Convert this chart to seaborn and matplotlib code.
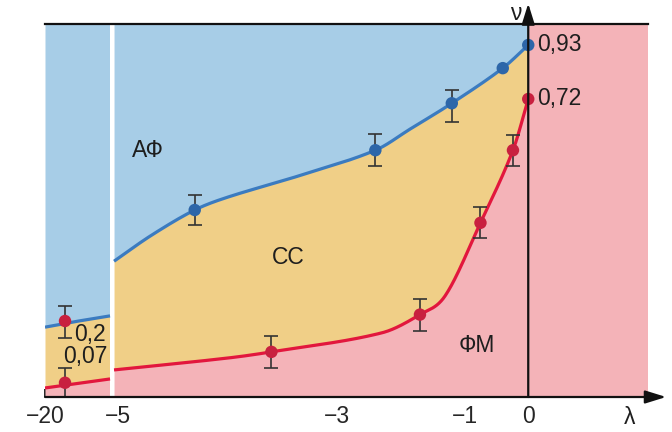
import numpy as np
import matplotlib
matplotlib.use("Agg")
import matplotlib.pyplot as plt
import seaborn as sns

# ---------------- data ----------------
# measured points on the АФ/СС boundary (right of the axis break)
blue_pts_lam = [-4.3, -2.4, -1.2, -0.4, 0.0]
blue_pts_nu = [0.46, 0.60, 0.71, 0.84, 0.93]
blue_pts_err = [0.036, 0.037, 0.045, np.nan, np.nan]

# measured points on the СС/ФМ boundary
red_pts_lam = [-3.6, -1.7, -0.75, -0.24, 0.0]
red_pts_nu = [0.135, 0.215, 0.43, 0.60, 0.72]
red_pts_err = [0.033, 0.037, 0.036, 0.036, np.nan]

# points on the far-left segment (λ → −20)
left_pts_lam = [-16, -16]
left_pts_nu = [0.2, 0.07]
left_pts_err = [0.035, 0.031]

# smooth phase boundaries, right of the break
blue_lam = [-6.0, -4.7, -4.3, -4.0, -3.35, -2.4, -1.85, -1.2, -0.4, 0.0]
blue_nu = [0.34, 0.40, 0.46, 0.49, 0.54, 0.60, 0.65, 0.71, 0.84, 0.93]
red_lam = [-6.0, -4.0, -3.6, -2.3, -1.7, -1.3, -0.75, -0.24, 0.0]
red_nu = [0.097, 0.122, 0.135, 0.175, 0.215, 0.26, 0.43, 0.60, 0.72]

# phase boundaries, left of the break
blue_left_lam = [-20, -7]
blue_left_nu = [0.187, 0.212]
red_left_lam = [-20, -7]
red_left_nu = [0.059, 0.078]

xtick_vals = [-20, -5, -3, -1, 0]
xtick_labels = ["\u221220", "\u22125", "\u22123", "\u22121", "0"]

# ---------------- non-uniform axis scales ----------------
LAM_KNOTS = [-20, -7, -6, -5, -3, 0, 1.88]
LAM_UNITS = [0, 65, 69, 73, 292, 483, 602.7]
NU_KNOTS = [0.04, 0.2, 0.72, 0.93, 1.01]
NU_UNITS = [0, 76, 298, 352, 373]
BREAK = (-7, -6)


def piecewise(x, xp, fp):
    x = np.asarray(x, float)
    xp = np.asarray(xp, float)
    fp = np.asarray(fp, float)
    y = np.interp(x, xp, fp)
    y = np.where(x < xp[0], fp[0] + (x - xp[0]) * (fp[1] - fp[0]) / (xp[1] - xp[0]), y)
    y = np.where(x > xp[-1], fp[-1] + (x - xp[-1]) * (fp[-1] - fp[-2]) / (xp[-1] - xp[-2]), y)
    return y


lam_fwd = lambda v: piecewise(v, LAM_KNOTS, LAM_UNITS)
lam_inv = lambda v: piecewise(v, LAM_UNITS, LAM_KNOTS)
nu_fwd = lambda v: piecewise(v, NU_KNOTS, NU_UNITS)
nu_inv = lambda v: piecewise(v, NU_UNITS, NU_KNOTS)


def cardinal(xk, yk, xs):
    """Cubic Hermite curve with central-difference tangents."""
    xk = np.asarray(xk, float)
    yk = np.asarray(yk, float)
    h = np.diff(xk)
    d = np.diff(yk) / h
    m = np.empty_like(yk)
    m[1:-1] = (yk[2:] - yk[:-2]) / (xk[2:] - xk[:-2])
    m[0] = d[0]
    m[-1] = d[-1]
    idx = np.clip(np.searchsorted(xk, xs) - 1, 0, len(xk) - 2)
    t = (xs - xk[idx]) / h[idx]
    h00 = 2 * t**3 - 3 * t**2 + 1
    h10 = t**3 - 2 * t**2 + t
    h01 = -2 * t**3 + 3 * t**2
    h11 = t**3 - t**2
    return h00 * yk[idx] + h10 * h[idx] * m[idx] + h01 * yk[idx + 1] + h11 * h[idx] * m[idx + 1]


def smooth(lam, nu, grid_lam):
    u = lam_fwd(lam)
    v = nu_fwd(nu)
    ug = lam_fwd(grid_lam)
    return nu_inv(cardinal(u, v, ug))


# ---------------- figure ----------------
sns.set_theme(style="white")
plt.rcParams["font.family"] = ["Liberation Sans", "DejaVu Sans"]
plt.rcParams["text.color"] = "#1e1e1e"

C_BLUE_FILL = "#a7cde7"
C_YELLOW = "#f0cf87"
C_PINK = "#f4b3b8"
C_BLUE_LINE = "#3b7bc0"
C_RED_LINE = "#e2173d"
C_BLUE_DOT = "#2d66a9"
C_RED_DOT = "#c8203f"
C_BAR = "#333333"
FS = 16.5

fig = plt.figure(figsize=(6.72, 4.32), dpi=100)
ax = fig.add_axes([45 / 672, 35 / 432, 603 / 672, 373 / 432])
ax.set_xscale("function", functions=(lam_fwd, lam_inv))
ax.set_yscale("function", functions=(nu_fwd, nu_inv))
ax.set_xlim(LAM_KNOTS[0], LAM_KNOTS[-1])
ax.set_ylim(NU_KNOTS[0], NU_KNOTS[-1])
y0, y1 = NU_KNOTS[0], NU_KNOTS[-1]

# right segment: dense grid in display units
grid_r = lam_inv(np.linspace(lam_fwd(BREAK[1]), lam_fwd(0.0), 400))
blue_r = smooth(blue_lam, blue_nu, grid_r)
red_r = smooth(red_lam, red_nu, grid_r)
grid_l = np.linspace(BREAK[0] - 13, BREAK[0], 50)
blue_l = np.interp(grid_l, blue_left_lam, blue_left_nu)
red_l = np.interp(grid_l, red_left_lam, red_left_nu)

for g, b, r in ((grid_l, blue_l, red_l), (grid_r, blue_r, red_r)):
    ax.fill_between(g, b, y1, color=C_BLUE_FILL, lw=0, zorder=1)
    ax.fill_between(g, r, b, color=C_YELLOW, lw=0, zorder=1)
    ax.fill_between(g, y0, r, color=C_PINK, lw=0, zorder=1)
ax.fill_between([0, LAM_KNOTS[-1]], y0, y1, color=C_PINK, lw=0, zorder=1)
ax.axvspan(BREAK[0], BREAK[1], color="white", lw=0, zorder=2)

for g, b, r in ((grid_l, blue_l, red_l), (grid_r, blue_r, red_r)):
    sns.lineplot(x=g, y=b, ax=ax, color=C_BLUE_LINE, lw=2.3, sort=False,
                 estimator=None, zorder=3, solid_capstyle="butt")
    sns.lineplot(x=g, y=r, ax=ax, color=C_RED_LINE, lw=2.3, sort=False,
                 estimator=None, zorder=3, solid_capstyle="butt")

# error bars
for xs, ys, es in ((blue_pts_lam, blue_pts_nu, blue_pts_err),
                   (red_pts_lam, red_pts_nu, red_pts_err),
                   (left_pts_lam, left_pts_nu, left_pts_err)):
    xs = np.array(xs); ys = np.array(ys); es = np.array(es)
    ok = ~np.isnan(es)
    ax.errorbar(xs[ok], ys[ok], yerr=es[ok], fmt="none", ecolor=C_BAR,
                elinewidth=1.2, capsize=5, capthick=1.2, zorder=4)

# points
sns.scatterplot(x=blue_pts_lam, y=blue_pts_nu, ax=ax, color=C_BLUE_DOT, s=80,
                edgecolor="none", zorder=5)
sns.scatterplot(x=red_pts_lam + left_pts_lam, y=red_pts_nu + left_pts_nu, ax=ax,
                color=C_RED_DOT, s=80, edgecolor="none", zorder=5)

# value labels
ax.annotate("0,93", (0, 0.93), xytext=(6.5, 0), textcoords="offset points",
            ha="left", va="center", fontsize=FS, zorder=6)
ax.annotate("0,72", (0, 0.72), xytext=(6.5, 0), textcoords="offset points",
            ha="left", va="center", fontsize=FS, zorder=6)
ax.annotate("0,2", (-16, 0.2), xytext=(6.5, -10), textcoords="offset points",
            ha="left", va="center", fontsize=FS, zorder=6)
ax.annotate("0,07", (-16, 0.07), xytext=(-1.5, 19), textcoords="offset points",
            ha="left", va="center", fontsize=FS, zorder=6)

# phase names
ax.text(0.171, 0.662, "АФ", transform=ax.transAxes, ha="center", va="center", fontsize=FS)
ax.text(0.403, 0.373, "СС", transform=ax.transAxes, ha="center", va="center", fontsize=FS)
ax.text(0.716, 0.137, "ФМ", transform=ax.transAxes, ha="center", va="center", fontsize=FS)

# axes frame
for side in ("left", "right", "bottom"):
    ax.spines[side].set_visible(False)
ax.spines["top"].set_color("#111111")
ax.spines["top"].set_linewidth(1.6)
ax.spines["top"].set_zorder(7)

ax.set_xticks(xtick_vals)
ax.set_xticklabels(xtick_labels, fontsize=FS)
ax.set_yticks([])
ax.tick_params(axis="x", direction="in", length=6, width=1.3, color="#111111",
               pad=6, bottom=True, top=False)
ax.xaxis.set_tick_params(which="minor", bottom=False)
ax.grid(False)

arrow = dict(arrowstyle="-|>,head_length=0.9,head_width=0.28", color="#111111",
             lw=1.6, mutation_scale=14, shrinkA=0, shrinkB=0)
ax.annotate("", xy=(1.03, 0), xytext=(0, 0), xycoords="axes fraction",
            textcoords="axes fraction", arrowprops=arrow, zorder=8, annotation_clip=False)
ax.annotate("", xy=(0, 1.055), xytext=(0, 0), xycoords=("data", "axes fraction"),
            textcoords=("data", "axes fraction"), arrowprops=arrow, zorder=8,
            annotation_clip=False)
ax.text(0.781, 1.027, "ν", transform=ax.transAxes, ha="center", va="center", fontsize=FS)
ax.text(0.970, -0.054, "λ", transform=ax.transAxes, ha="center", va="center", fontsize=FS)

fig.savefig("out.png", dpi=100)
